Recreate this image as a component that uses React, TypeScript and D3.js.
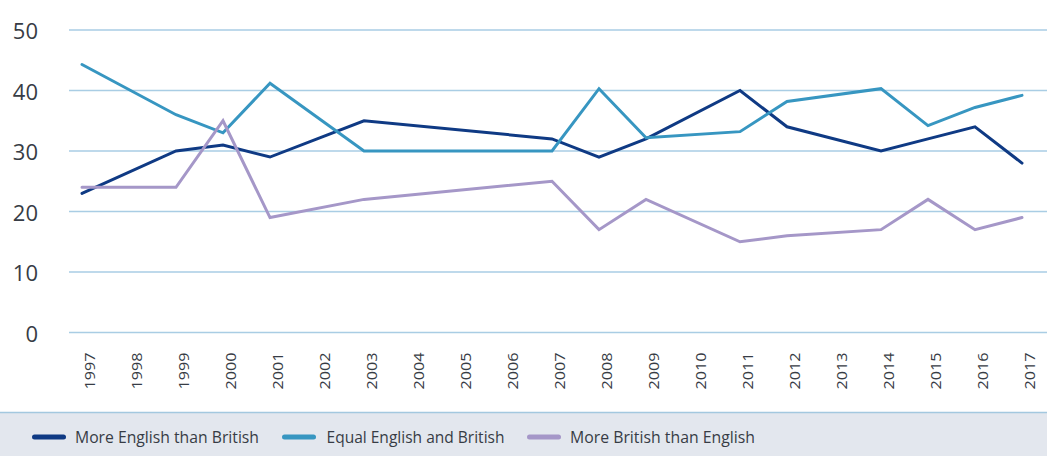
import React from "react";
import * as d3 from "d3";

const years: number[] = d3.range(1997, 2018);
const moreEnglish: (number | null)[] = [23, null, 30, 31, 29, null, 35, null, null, null, 32, 29, 32, null, 40, 34, null, 30, 32, 34, 28];
const equal: (number | null)[] = [44.3, null, 36, 33, 41.2, null, 30, null, null, null, 30, 40.3, 32.2, null, 33.2, 38.2, null, 40.3, 34.2, 37.2, 39.2];
const moreBritish: (number | null)[] = [24, null, 24, 35, 19, null, 22, null, null, null, 25, 17, 22, null, 15, 16, null, 17, 22, 17, 19];
const yTicks: number[] = [0, 10, 20, 30, 40, 50];

const seriesList = [
  { name: "More English than British", values: moreEnglish, color: "#0f3a84" },
  { name: "Equal English and British", values: equal, color: "#3796c1" },
  { name: "More British than English", values: moreBritish, color: "#a597c8" },
];

const W = 1047;
const H = 456;
const FONT = "'Open Sans', 'Noto Sans', sans-serif";

export default function App() {
  const x = d3.scalePoint<number>().domain(years).range([82, 1022]);
  const y = d3.scaleLinear().domain([0, 50]).range([332.5, 30]);
  const line = d3
    .line<{ year: number; v: number }>()
    .x((d) => x(d.year) as number)
    .y((d) => y(d.v));

  const legendItems = [
    { sx: 32, tx: 75, tl: 184 },
    { sx: 282, tx: 326.5, tl: 178 },
    { sx: 527, tx: 570, tl: 185 },
  ];

  return (
    <svg
      width={W}
      height={H}
      style={{ position: "absolute", left: 0, top: 0, display: "block" }}
      fontFamily={FONT}
    >
      <rect x={0} y={0} width={W} height={H} fill="#ffffff" />
      {yTicks.map((t) => (
        <g key={t}>
          <line x1={69} x2={W} y1={y(t)} y2={y(t)} stroke="#a9cde4" strokeWidth={1.3} />
          <text x={38} y={y(t)} textAnchor="end" dominantBaseline="central" fontSize={22} fill="#373c45">
            {t}
          </text>
        </g>
      ))}
      {years.map((yr) => (
        <text
          key={yr}
          transform={`translate(${(x(yr) as number) + 7},371) rotate(-90)`}
          textAnchor="middle"
          dominantBaseline="central"
          fontSize={15}
          textLength={37}
          lengthAdjust="spacingAndGlyphs"
          fill="#373c45"
        >
          {yr}
        </text>
      ))}
      {seriesList.map((s) => {
        const pts = years
          .map((yr, i) => ({ year: yr, v: s.values[i] }))
          .filter((d) => d.v !== null) as { year: number; v: number }[];
        return (
          <path
            key={s.name}
            d={line(pts) || ""}
            fill="none"
            stroke={s.color}
            strokeWidth={3}
            strokeLinejoin="miter"
            strokeLinecap="round"
          />
        );
      })}
      <rect x={0} y={412} width={W} height={H - 412} fill="#e3e7ee" />
      <line x1={0} x2={W} y1={412.5} y2={412.5} stroke="#a3c8df" strokeWidth={1.5} />
      {seriesList.map((s, i) => (
        <g key={s.name}>
          <line
            x1={legendItems[i].sx + 2.5}
            x2={legendItems[i].sx + 31.5}
            y1={437}
            y2={437}
            stroke={s.color}
            strokeWidth={5}
            strokeLinecap="round"
          />
          <text
            x={legendItems[i].tx}
            y={437}
            dominantBaseline="central"
            fontSize={15.5}
            textLength={legendItems[i].tl}
            lengthAdjust="spacingAndGlyphs"
            fill="#373c45"
          >
            {s.name}
          </text>
        </g>
      ))}
    </svg>
  );
}
